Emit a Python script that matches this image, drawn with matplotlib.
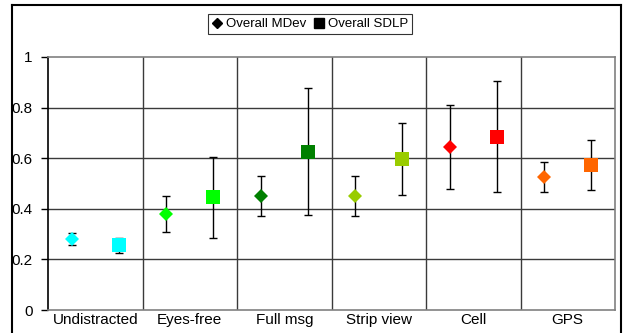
import matplotlib
matplotlib.use("Agg")
import matplotlib.pyplot as plt
from matplotlib.lines import Line2D

plt.rcParams['font.family'] = ['Liberation Sans', 'DejaVu Sans']

categories = ["Undistracted", "Eyes-free", "Full msg", "Strip view", "Cell", "GPS"]
mdev = [0.28, 0.38, 0.45, 0.45, 0.643, 0.525]
mdev_err = [0.025, 0.07, 0.08, 0.08, 0.166, 0.06]
sdlp = [0.255, 0.445, 0.626, 0.598, 0.685, 0.574]
sdlp_err = [0.03, 0.16, 0.25, 0.143, 0.22, 0.098]
colors = ["#00FFFF", "#00FF00", "#008000", "#99CC00", "#FF0000", "#FF6600"]
yticks = [0, 0.2, 0.4, 0.6, 0.8, 1]
ytick_labels = ["0", "0.2", "0.4", "0.6", "0.8", "1"]

fig = plt.figure(figsize=(6.24, 3.33), dpi=100)
ax = fig.add_axes([48/624, 1-310/333, (615-48)/624, (310-57)/333])

n = len(categories)
for i in range(n):
    ax.errorbar(i + 0.25, mdev[i], yerr=mdev_err[i], fmt='none', ecolor='black',
                elinewidth=1, capsize=3, capthick=1, zorder=3)
    ax.plot(i + 0.25, mdev[i], marker='D', markersize=7.5, color=colors[i],
            markeredgewidth=0, linestyle='none', zorder=4)
    ax.errorbar(i + 0.75, sdlp[i], yerr=sdlp_err[i], fmt='none', ecolor='black',
                elinewidth=1, capsize=3, capthick=1, zorder=3)
    ax.plot(i + 0.75, sdlp[i], marker='s', markersize=10, color=colors[i],
            markeredgewidth=0, linestyle='none', zorder=4)

ax.set_xlim(0, n)
ax.set_ylim(0, 1)
ax.set_yticks(yticks)
ax.set_yticklabels(ytick_labels)
ax.set_xticks([i + 0.5 for i in range(n)])
ax.set_xticklabels(categories)
ax.tick_params(axis='x', length=0, labelsize=11, pad=2)
ax.tick_params(axis='y', direction='out', length=5, width=1, labelsize=11, pad=6)

for y in yticks[1:-1]:
    ax.axhline(y, color='#3a3a3a', linewidth=1, zorder=1)
for x in range(1, n):
    ax.axvline(x, color='#3a3a3a', linewidth=1, zorder=1)

ax.spines['left'].set_color('black')
for s in ['top', 'right', 'bottom']:
    ax.spines[s].set_color('#808080')
for s in ax.spines.values():
    s.set_linewidth(1.2)

# outer frame
fx0, fx1 = 12/624, 621/624
fy = 1 - 5/333
fig.add_artist(Line2D([fx0, fx0], [0, fy], color='black', linewidth=1.5, transform=fig.transFigure))
fig.add_artist(Line2D([fx1, fx1], [0, fy], color='black', linewidth=1.5, transform=fig.transFigure))
fig.add_artist(Line2D([fx0, fx1], [fy, fy], color='black', linewidth=1.5, transform=fig.transFigure))

handles = [Line2D([], [], marker='D', color='black', linestyle='none', markersize=5),
           Line2D([], [], marker='s', color='black', linestyle='none', markersize=7)]
leg = fig.legend(handles, ["Overall MDev", "Overall SDLP"], loc='center',
                 bbox_to_anchor=(310/624, 1-24/333), ncol=2, frameon=True,
                 fancybox=False, edgecolor='black', fontsize=9.5,
                 handlelength=0.8, handletextpad=0.3, columnspacing=0.5,
                 borderpad=0.3, borderaxespad=0)
leg.get_frame().set_linewidth(0.8)

fig.savefig("out.png", dpi=100)
